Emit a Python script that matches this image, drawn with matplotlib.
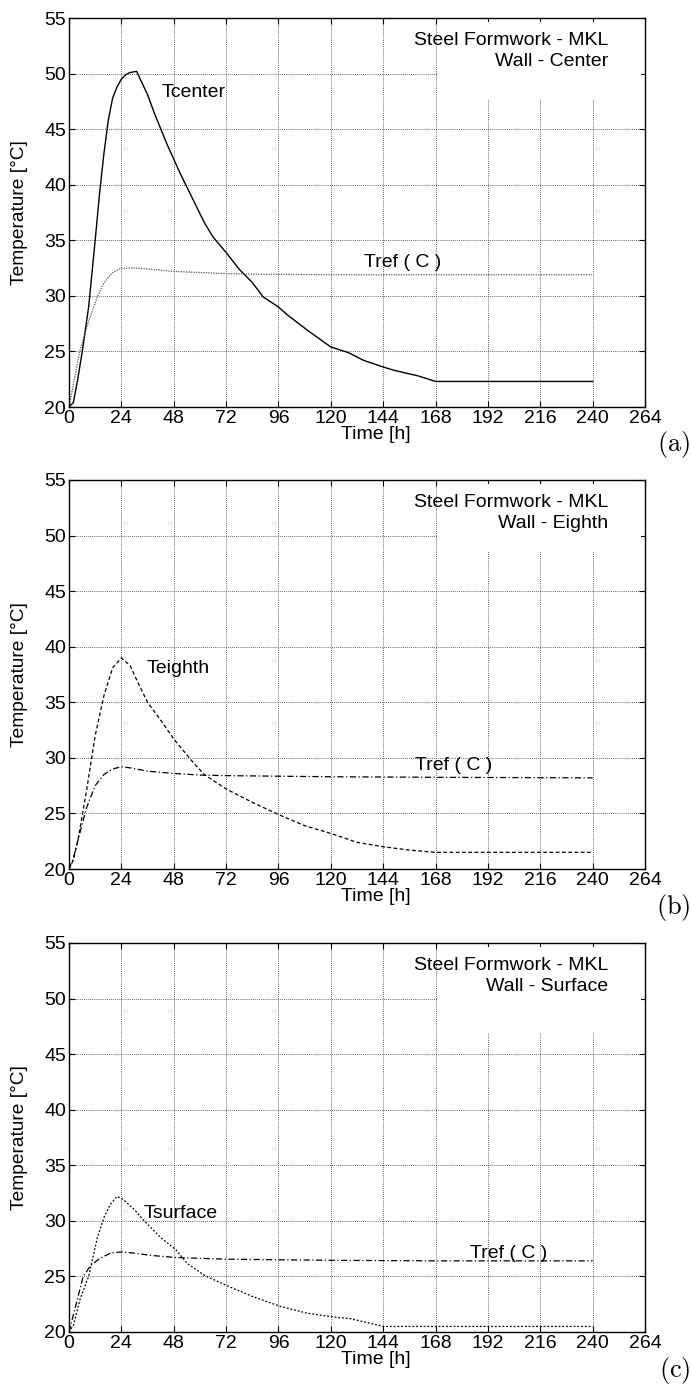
import matplotlib
matplotlib.use("Agg")
import matplotlib.pyplot as plt
from matplotlib.patches import Rectangle

plt.rcParams['font.family'] = ['Liberation Sans', 'DejaVu Sans']
plt.rcParams['mathtext.fontset'] = 'cm'

# ---------------- data ----------------
t_center = [0, 2, 4, 6, 9, 12, 14, 16, 18, 20, 22, 24, 26, 28, 31, 36, 39, 45, 51, 57, 62, 66,
            72, 78, 84, 89, 96, 100, 110, 120, 128, 135, 144, 149, 160, 168, 240]
T_center = [20, 20.4, 22.5, 24.9, 29.0, 35.0, 39.2, 42.8, 45.8, 47.8, 48.8, 49.5, 49.9, 50.1, 50.2,
            48.1, 46.5, 43.6, 41.0, 38.6, 36.6, 35.3, 33.9, 32.4, 31.2, 29.9, 29.0, 28.3, 26.8,
            25.4, 24.9, 24.2, 23.6, 23.3, 22.8, 22.3, 22.3]
t_ref_a = [0, 2, 5, 9, 13, 16, 20, 24, 31, 37, 48, 60, 72, 84, 120, 168, 240]
T_ref_a = [20, 22.0, 25.1, 27.7, 29.9, 31.2, 32.1, 32.5, 32.5, 32.4, 32.2, 32.1, 32.0, 31.95,
           31.9, 31.9, 31.9]

t_eighth = [0, 2, 4, 8, 12, 16, 20, 24, 28, 32, 36, 42, 48, 56, 62, 72, 84, 96, 108, 120, 132,
            144, 156, 168, 240]
T_eighth = [20, 20.8, 22.5, 27.0, 32.0, 35.6, 38.1, 39.0, 38.3, 36.6, 35.0, 33.4, 31.7, 29.8,
            28.5, 27.2, 26.0, 24.9, 23.9, 23.2, 22.4, 22.0, 21.7, 21.5, 21.5]
t_ref_b = [0, 2, 4, 8, 12, 16, 20, 24, 28, 36, 48, 60, 72, 96, 120, 168, 240]
T_ref_b = [20, 21.0, 22.5, 25.5, 27.5, 28.5, 29.0, 29.2, 29.1, 28.8, 28.6, 28.45, 28.4, 28.35,
           28.3, 28.25, 28.2]

t_surface = [0, 2, 5, 9, 13, 16, 19, 22, 25, 30, 34, 42, 49, 54, 62, 72, 84, 97, 109, 121, 129,
             144, 240]
T_surface = [20, 20.6, 22.9, 25.0, 28.5, 30.3, 31.5, 32.2, 31.9, 31.0, 30.1, 28.5, 27.4, 26.2,
             25.1, 24.2, 23.2, 22.3, 21.7, 21.35, 21.2, 20.5, 20.5]
t_ref_c = [0, 3, 6.5, 10, 14, 19, 24, 30, 37, 49, 72, 120, 168, 240]
T_ref_c = [20, 22.3, 25.0, 26.0, 26.6, 27.1, 27.2, 27.1, 26.9, 26.7, 26.55, 26.45, 26.4, 26.4]

x_ticks = [0, 24, 48, 72, 96, 120, 144, 168, 192, 216, 240, 264]
y_ticks = [20, 25, 30, 35, 40, 45, 50, 55]

panels = [
    dict(pos=[0.09986, 0.70719, 0.8336, 0.27986], sub='Wall - Center', tag='(a)', tag_y=0.669,
         box_bottom=47.7,
         lines=[(t_center, T_center, '-', 1.0, 'black'),
                (t_ref_a, T_ref_a, (0, (1, 1)), 0.9, '#555555')],
         labels=[(42.5, 47.9, 'Tcenter'), (135, 32.6, 'Tref ( C )')]),
    dict(pos=[0.09986, 0.37482, 0.8336, 0.27986], sub='Wall - Eighth', tag='(b)', tag_y=0.336,
         box_bottom=48.5,
         lines=[(t_eighth, T_eighth, (0, (3, 2)), 0.9, 'black'),
                (t_ref_b, T_ref_b, (0, (5, 2, 1, 2)), 0.9, 'black')],
         labels=[(35.5, 37.6, 'Teighth'), (158.5, 28.9, 'Tref ( C )')]),
    dict(pos=[0.09986, 0.04173, 0.8336, 0.27986], sub='Wall - Surface', tag='(c)', tag_y=0.003,
         box_bottom=46.9,
         lines=[(t_surface, T_surface, (0, (1.5, 1.5)), 0.9, 'black'),
                (t_ref_c, T_ref_c, (0, (5, 2, 1, 2)), 0.9, 'black')],
         labels=[(34, 30.3, 'Tsurface'), (184, 26.65, 'Tref ( C )')]),
]

fig = plt.figure(figsize=(6.91, 13.90), dpi=100)
FS = 14

for p in panels:
    ax = fig.add_axes(p['pos'])
    ax.set_axisbelow(True)
    for x, y, ls, lw, col in p['lines']:
        ax.plot(x, y, linestyle=ls, linewidth=lw, color=col, zorder=2)
    ax.set_xlim(0, 264)
    ax.set_ylim(20, 55)
    ax.set_xticks(x_ticks)
    ax.set_yticks(y_ticks)
    ax.tick_params(direction='in', top=True, right=True, length=4, width=0.8,
                   labelsize=FS, pad=2)
    ax.grid(True, linestyle=(0, (1, 1.5)), linewidth=0.6, color='#333333')
    for s in ax.spines.values():
        s.set_linewidth(1.0)
    ax.add_patch(Rectangle((169, p['box_bottom']), 262 - 169, 54.6 - p['box_bottom'],
                           facecolor='white', edgecolor='none', zorder=0.8))
    ax.text(247, 52.6, 'Steel Formwork - MKL', ha='right', va='baseline', fontsize=FS, zorder=3)
    ax.text(247, 50.7, p['sub'], ha='right', va='baseline', fontsize=FS, zorder=3)
    for lx, ly, s in p['labels']:
        ax.text(lx, ly, s, ha='left', va='baseline', fontsize=FS, zorder=3)
    ax.set_xlabel('Time [h]', fontsize=FS, labelpad=0)
    ax.xaxis.set_label_coords(0.533, -0.05)
    ax.set_ylabel('Temperature [°C]', fontsize=13.8)
    ax.yaxis.set_label_coords(-0.071, 0.5)
    fig.text(0.999, p['tag_y'], r'$\mathrm{' + p['tag'] + '}$', ha='right', va='bottom',
             fontsize=19)

fig.savefig('out.png', dpi=100)
